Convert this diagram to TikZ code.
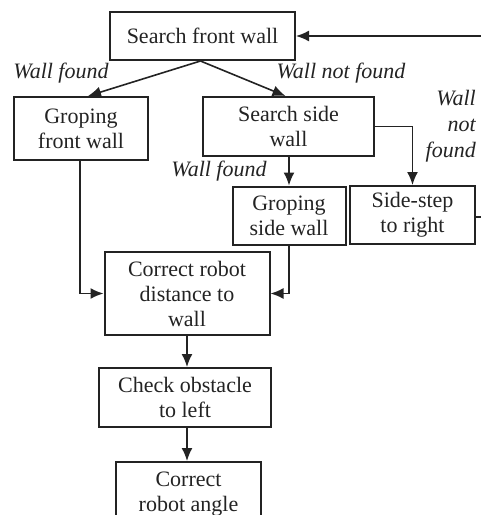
\documentclass[tikz,border=0pt]{standalone}
\usepackage{fontspec}
\setmainfont{Liberation Serif}
\usetikzlibrary{arrows.meta, positioning}
\definecolor{cInk}{RGB}{35,35,35}
\tikzset{
	box/.style={rectangle, draw=cInk, line width=2pt, align=center, inner sep=2pt, text=cInk, font=\fontsize{22}{25}\selectfont},
	lbl/.style={font=\fontsize{22}{26}\selectfont\itshape, text=cInk, inner sep=0pt},
	flowarrow/.style={-{Latex[length=13pt, width=11pt]}, line width=1.6pt, draw=cInk},
}

\begin{document}
\begin{tikzpicture}[x=1pt, y=-1pt]
	\clip (0,0) rectangle (481,515);
	% boxes
	\node[box, minimum width=185pt, minimum height=48pt] (front) at (202.5,36) {Search front wall};
	\node[box, minimum width=134pt, minimum height=63pt] (gropf) at (81,128.5) {Groping\\front wall};
	\node[box, minimum width=171pt, minimum height=59pt] (sside) at (288.5,126.5) {Search side\\wall};
	\node[box, minimum width=113pt, minimum height=58pt] (grops) at (289,215.5) {Groping\\side wall};
	\node[box, minimum width=125pt, minimum height=58pt] (sstep) at (412.5,215) {Side-step\\to right};
	\node[box, minimum width=165pt, minimum height=83pt] (cdist) at (187,293.5) {Correct robot\\distance to\\wall};
	\node[box, minimum width=172pt, minimum height=59pt] (check) at (185,397.5) {Check obstacle\\to left};
	\node[box, minimum width=145pt, minimum height=64pt] (cangle) at (188.5,494) {Correct\\robot angle};
	% branch labels
	\node[lbl] (lwf) at (61,73) {Wall found};
	\node[lbl] (lwnf) at (341,73) {Wall not found};
	\node[lbl, align=right, anchor=east] (lwnf2) at (476,126) {Wall\\not\\found};
	\node[lbl] (lwf2) at (219,171) {Wall found};
	% connectors
	\draw[flowarrow] ([xshift=-2pt]front.south) -- ([xshift=7pt]gropf.north);
	\draw[flowarrow] ([xshift=-2pt]front.south) -- ([xshift=-3pt]sside.north);
	\draw[flowarrow] (sside.south -| grops.north) -- (grops.north);
	\draw[flowarrow] (sside.east) -| (sstep.north);
	\draw[flowarrow] ([xshift=-1pt]gropf.south) |- (cdist.west);
	\draw[flowarrow] (grops.south) |- (cdist.east);
	\draw[flowarrow] (cdist.south) -- (cdist.south |- check.north);
	\draw[flowarrow] (check.south -| cdist.south) -- (cdist.south |- cangle.north);
	% loop back, runs off the right edge
	\coordinate (loopx) at (500,0);
	\draw[flowarrow] ([yshift=-2pt]sstep.east) -- ([yshift=-2pt]sstep.east -| loopx) |- (front.east);
\end{tikzpicture}
\end{document}
